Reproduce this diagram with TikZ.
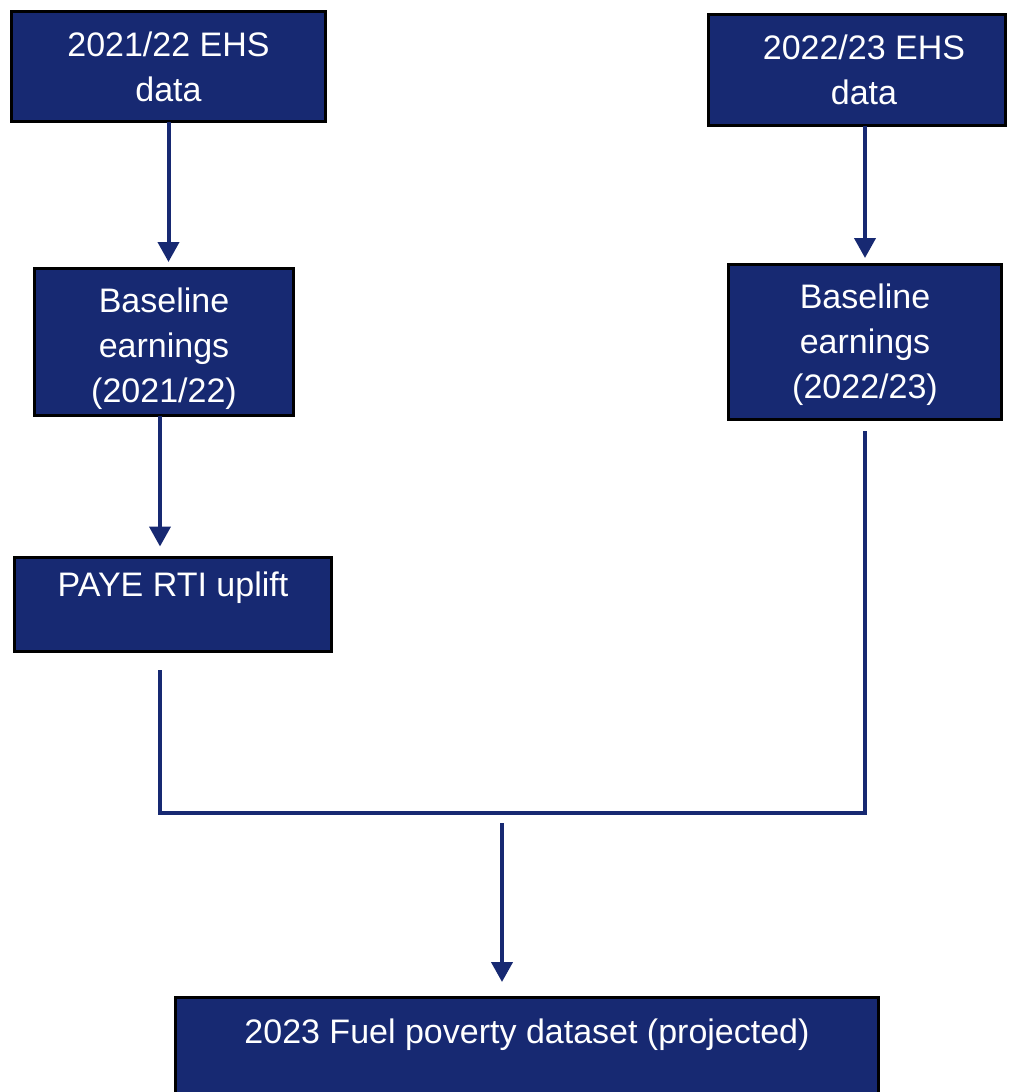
\documentclass[tikz,border=0pt]{standalone}
\usepackage{fontspec}
\setmainfont{Liberation Sans}
\usepackage{tikz}
\usetikzlibrary{arrows.meta}

\definecolor{navy}{RGB}{23,41,114}

\begin{document}
\begin{tikzpicture}[x=1pt,y=-1pt,>={Triangle[width=21pt,length=20pt]},
                    line width=4pt,color=navy,
                    box/.style={rectangle,draw=black,line width=3pt,fill=navy,text=white,
                      align=center,inner sep=0pt,outer sep=0pt,
                      font=\fontsize{34}{45}\selectfont}]

  \useasboundingbox (0,0) rectangle (1012,1092);

  \node[box,minimum width=314pt,minimum height=110pt] (ehs21) at (168.5,66.5) {2021/22 EHS\\data};
  \node[box,minimum width=297pt,minimum height=111pt] (ehs22) at (857,70) {\hspace*{14pt}2022/23 EHS\\\hspace*{14pt}data};
  \node[box,minimum width=259pt,minimum height=147pt] (base21) at (164,342) {\rule{0pt}{39pt}Baseline\\earnings\\(2021/22)};
  \node[box,minimum width=273pt,minimum height=155pt] (base22) at (865,342) {\rule{0pt}{31pt}Baseline\\earnings\\(2022/23)};
  \node[box,minimum width=317pt,minimum height=94pt,text height=25pt,text depth=42pt] (paye) at (173,604.5) {PAYE RTI uplift};
  \node[box,minimum width=703pt,minimum height=121pt,text height=25pt,text depth=55pt] (fpd) at (527,1058) {2023 Fuel poverty dataset (projected)};

  \coordinate (merge) at (502,813);

\path[->]
    (ehs21.south) edge[shorten >=6.5pt] (ehs21.south |- base21.north)
    (base22.north |- ehs22.south) edge[shorten >=6.5pt] (base22.north)
    ([xshift=-4pt]base21.south) edge[shorten >=11pt] ([xshift=-4pt]base21.south |- paye.north)
    ([yshift=-10pt]merge) edge[shorten >=15.5pt] (merge |- fpd.north)
;
  \draw ([xshift=-13pt,yshift=-18.5pt]paye.south) |- (merge) -| ([yshift=-11.5pt]base22.south);
\end{tikzpicture}
\end{document}
